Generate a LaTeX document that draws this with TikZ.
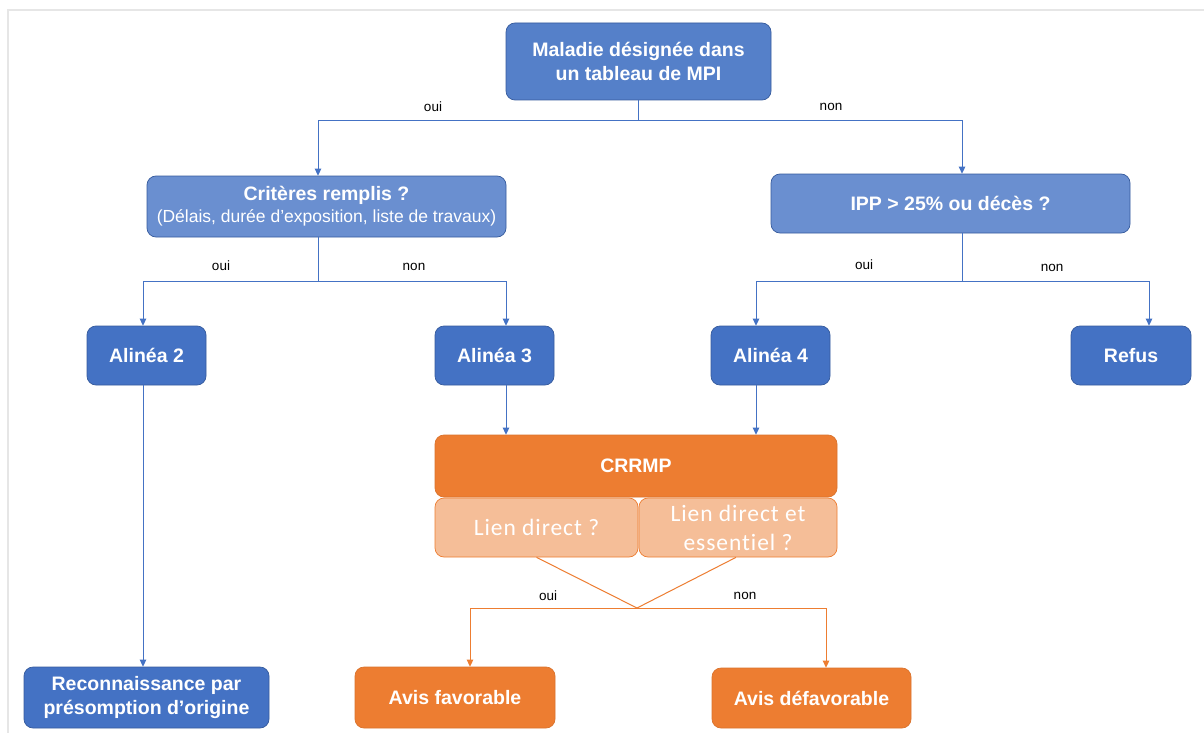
\documentclass[tikz,border=0pt]{standalone}
\usepackage{fontspec}
\setmainfont{Liberation Sans}
\newfontfamily\calibri[Ligatures=CommonOff, LetterSpace=4]{Carlito}
\usetikzlibrary{arrows.meta}

\definecolor{bleu}{HTML}{4472C4}
\definecolor{bleuclair}{HTML}{6A8FD0}
\definecolor{bleumoyen}{HTML}{5580C9}
\definecolor{orangeoff}{HTML}{ED7D31}
\definecolor{orangeclair}{HTML}{F5BE98}
\definecolor{cadre}{HTML}{E6E6E6}

\tikzset{
  boite/.style = {draw=bleu!80!black, line width=0.7pt, rounded corners=9pt, text=white,
    font=\bfseries\fontsize{19.5}{24}\selectfont, align=center, inner sep=0pt},
  bleue/.style = {boite, fill=bleu},
  orangee/.style = {boite, fill=orangeoff, draw=orangeoff!92!black},
  lien/.style = {boite, fill=orangeclair, draw=orangeoff, font=\calibri\fontsize{23.5}{29}\selectfont},
  trait/.style = {draw=bleu, line width=1pt},
  fleche/.style = {trait, -{Triangle[length=7pt,width=6.5pt]}},
  otrait/.style = {trait, draw=orangeoff},
  ofleche/.style = {fleche, draw=orangeoff},
  rep/.style = {font=\fontsize{13.5}{16}\selectfont, text=black, inner sep=0pt}
}

\begin{document}
\begin{tikzpicture}[x=1pt, y=-1pt]
  \fill[white] (0,0) rectangle (1204,733);
  \useasboundingbox (0,0) rectangle (1204,733);
  \draw[cadre, line width=2pt] (7.5,733) -- (7.5,10.5) -- (1204,10.5);

  \node[bleue, fill=bleumoyen, minimum width=265, minimum height=77] (mal) at (638.5,61.5) {Maladie désignée dans\\un tableau de MPI};
  \node[bleue, fill=bleuclair, minimum width=359, minimum height=61, font=\bfseries\fontsize{19.5}{22}\selectfont] (crit) at (326.5,206.5) {Critères remplis ?\\{\mdseries\fontsize{17.5}{22}\selectfont(Délais, durée d’exposition, liste de travaux)}};
  \node[bleue, fill=bleuclair, minimum width=359, minimum height=59] (ipp) at (950.5,203.5) {IPP > 25\% ou décès ?};

  \node[bleue, minimum width=119, minimum height=59] (al2) at (146.5,355.5) {Alinéa 2};
  \node[bleue, minimum width=119, minimum height=59] (al3) at (494.5,355.5) {Alinéa 3};
  \node[bleue, minimum width=119, minimum height=59] (al4) at (770.5,355.5) {Alinéa 4};
  \node[bleue, minimum width=120, minimum height=59] (refus) at (1131,355.5) {Refus};

  \node[orangee, minimum width=402, minimum height=62] (crrmp) at (636,466) {CRRMP};
  \node[lien, minimum width=203, minimum height=59] (lien1) at (536.5,527.5) {Lien direct ?};
  \node[lien, minimum width=198, minimum height=59] (lien2) at (738,527.5) {Lien direct et\\essentiel ?};

  \node[bleue, minimum width=245, minimum height=61] (reco) at (146.5,697.5) {Reconnaissance par\\présomption d’origine};
  \node[orangee, minimum width=200, minimum height=61] (fav) at (455,697.5) {Avis favorable};
  \node[orangee, minimum width=199, minimum height=60] (defav) at (811.5,698) {Avis défavorable};

  % points de branchement
  \coordinate (j1) at (638.5,121);
  \coordinate (j2) at (318,281);
  \coordinate (j3) at (962,281);
  \coordinate (j4) at (637,608);

  \draw[trait] (mal.south) -- (j1);
  \draw[fleche] (j1) -| ([xshift=-8.5]crit.north);
  \draw[fleche] (j1) -| ([xshift=11.5]ipp.north);

  \draw[trait] ([xshift=-8.5]crit.south) -- (j2);
  \draw[fleche] (j2) -| ([xshift=-3.5]al2.north);
  \draw[fleche] (j2) -| ([xshift=11.5]al3.north);

  \draw[trait] ([xshift=11.5]ipp.south) -- (j3);
  \draw[fleche] (j3) -| ([xshift=-14.5]al4.north);
  \draw[fleche] (j3) -| ([xshift=18]refus.north);

  \draw[fleche] ([xshift=-3.5]al2.south) -- ([xshift=-3.5]reco.north);
  \draw[fleche] ([xshift=11.5]al3.south) -- ([xshift=11.5]al3.south |- crrmp.north);
  \draw[fleche] ([xshift=-14.5]al4.south) -- ([xshift=-14.5]al4.south |- crrmp.north);

  \draw[otrait] (lien1.south) -- (j4);
  \draw[otrait] ([xshift=-2]lien2.south) -- (j4);
  \draw[ofleche] (j4) -| ([xshift=15]fav.north);
  \draw[ofleche] (j4) -| ([xshift=14.5]defav.north);

  \node[rep] (oui1) at (433,107) {oui};
  \node[rep] (non1) at (831,107) {non};
  \node[rep] (oui2) at (221,266) {oui};
  \node[rep] (non2) at (414,267) {non};
  \node[rep] (oui3) at (864,265) {oui};
  \node[rep] (non3) at (1052,268) {non};
  \node[rep] (oui4) at (548,596) {oui};
  \node[rep] (non4) at (745,596) {non};
\end{tikzpicture}
\end{document}
